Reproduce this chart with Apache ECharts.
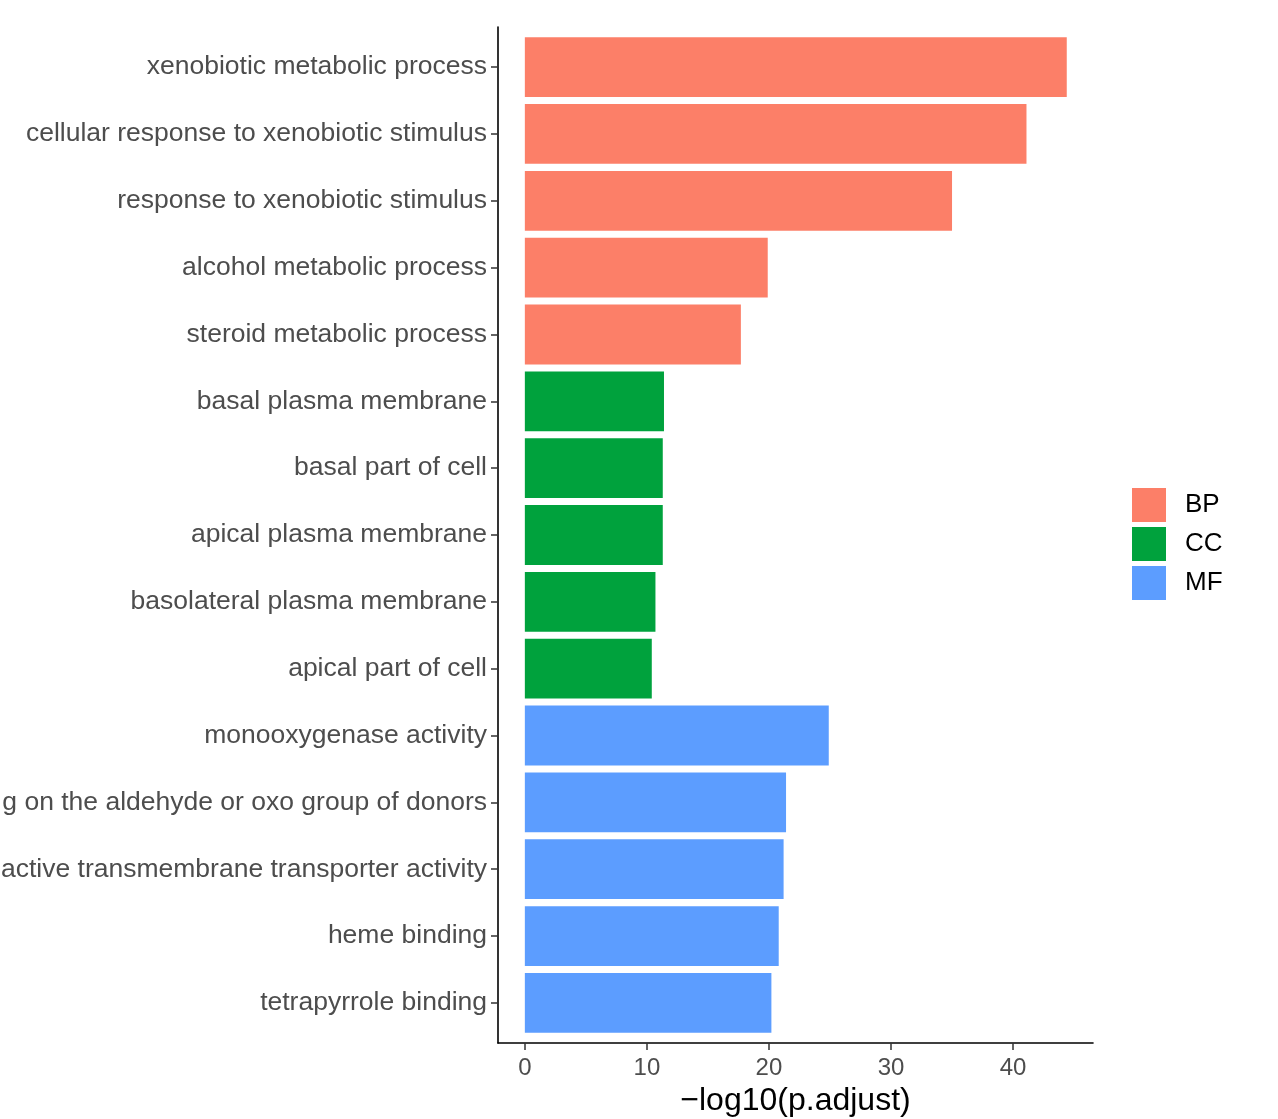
<!DOCTYPE html>
<html>
<head>
<meta charset="utf-8">
<script src="https://cdn.jsdelivr.net/npm/echarts@6/dist/echarts.min.js"></script>
<style>html,body{margin:0;padding:0;background:#fff}#c{width:1278px;height:1119px}</style>
</head>
<body>
<div id="c"></div>
<script>
const categories = [
  "xenobiotic metabolic process",
  "cellular response to xenobiotic stimulus",
  "response to xenobiotic stimulus",
  "alcohol metabolic process",
  "steroid metabolic process",
  "basal plasma membrane",
  "basal part of cell",
  "apical plasma membrane",
  "basolateral plasma membrane",
  "apical part of cell",
  "monooxygenase activity",
  "g on the aldehyde or oxo group of donors",
  "active transmembrane transporter activity",
  "heme binding",
  "tetrapyrrole binding"
];
const values = [44.4, 41.1, 35.0, 19.9, 17.7, 11.4, 11.3, 11.3, 10.7, 10.4, 24.9, 21.4, 21.2, 20.8, 20.2];
const groups = ["BP","BP","BP","BP","BP","CC","CC","CC","CC","CC","MF","MF","MF","MF","MF"];
const groupNames = ["BP","CC","MF"];
const groupColors = ["#FC7F68","#00A23D","#5C9DFF"];
const xTicks = [0, 10, 20, 30, 40];
const xTitle = "\u2212log10(p.adjust)";

const XMIN = -2.2, XMAX = 46.55;
const font = "Liberation Sans, Arial, Helvetica, sans-serif";

const series = groupNames.map((g, gi) => ({
  name: g,
  type: 'bar',
  stack: 'all',
  xAxisIndex: 1,
  yAxisIndex: 1,
  barCategoryGap: '10.5%',
  itemStyle: { color: groupColors[gi] },
  data: values.map((v, i) => groups[i] === g ? v : '-')
}));

const chart = echarts.init(document.getElementById('c'), null, { renderer: 'canvas' });
chart.setOption({
  animation: false,
  backgroundColor: '#ffffff',
  textStyle: { fontFamily: font },
  grid: [
    { left: 498, right: 185, top: 27, bottom: 76, containLabel: false, outerBoundsMode: 'none' },
    { left: 498, right: 185, top: 33.7, bottom: 82.7, containLabel: false, outerBoundsMode: 'none' }
  ],
  xAxis: [
    {
      gridIndex: 0, type: 'value', min: XMIN, max: XMAX,
      axisLine: { show: true, onZero: false, lineStyle: { color: '#000', width: 1.6 } },
      axisTick: { show: true, length: 7, lineStyle: { color: '#333', width: 1.5 }, customValues: xTicks },
      axisLabel: { show: true, customValues: xTicks, color: '#4D4D4D', fontSize: 24, margin: 13, fontFamily: font },
      splitLine: { show: false },
      name: xTitle, nameLocation: 'middle', nameGap: 42,
      nameTextStyle: { color: '#000', fontSize: 32, fontFamily: font }
    },
    {
      gridIndex: 1, type: 'value', min: XMIN, max: XMAX, show: false,
      axisLine: { onZero: false },
      splitLine: { show: false }
    }
  ],
  yAxis: [
    {
      gridIndex: 0, type: 'value', min: 0, max: 1,
      axisLine: { show: true, onZero: false, lineStyle: { color: '#000', width: 1.6 } },
      axisTick: { show: false }, axisLabel: { show: false }, splitLine: { show: false }
    },
    {
      gridIndex: 1, type: 'category', data: categories, inverse: true,
      axisLine: { show: false, onZero: false },
      axisTick: { show: true, alignWithLabel: true, length: 7, lineStyle: { color: '#333', width: 1.5 } },
      axisLabel: { color: '#4D4D4D', fontSize: 26.5, margin: 11, padding: [6, 0, 0, 0], fontFamily: font },
      splitLine: { show: false }
    }
  ],
  legend: {
    orient: 'vertical', left: 1132, top: 488, padding: 0,
    itemWidth: 34, itemHeight: 34, itemGap: 5,
    icon: 'rect',
    data: groupNames,
    textStyle: { color: '#000', fontSize: 26, fontFamily: font, padding: [0, 0, 0, 14] }
  },
  series: series
});
</script>
</body>
</html>
